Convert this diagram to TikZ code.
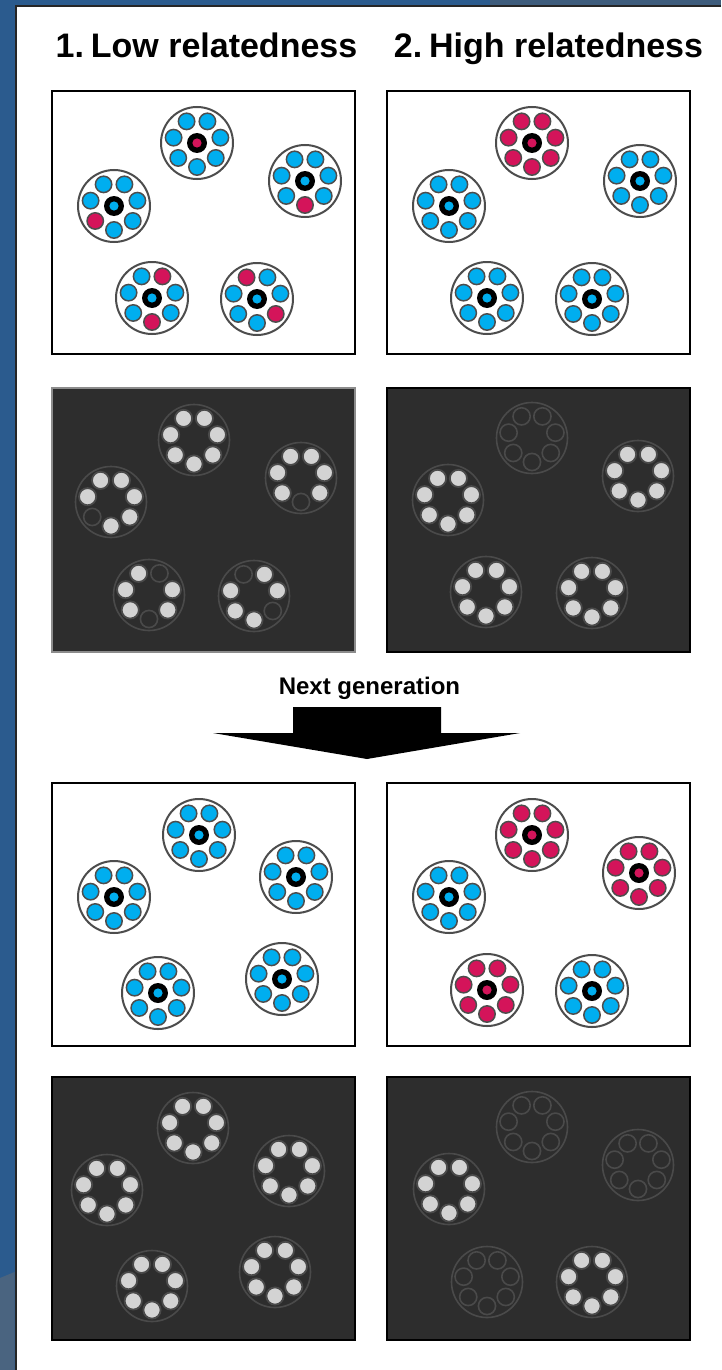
\documentclass[tikz,border=0pt]{standalone}
\usepackage{fontspec}
\setmainfont{Liberation Sans}
\definecolor{cb}{HTML}{00AEEF}
\definecolor{cr}{HTML}{D4145A}
\definecolor{bgblue}{HTML}{2B5B8E}
\definecolor{bgblue2}{HTML}{4A6480}
\definecolor{bgblue3}{HTML}{3E5C7C}
\definecolor{darkbg}{HTML}{2D2D2D}
\definecolor{ringgrey}{HTML}{4D4D4D}
\definecolor{dimgrey}{HTML}{4A4A4A}
\definecolor{cellgrey}{HTML}{D3D3D3}
\tikzset{
  panelW/.style={draw=black, line width=2pt, fill=white},
  panelD/.style={draw=black, line width=2pt, fill=darkbg},
  outerW/.style={draw=ringgrey, line width=2pt, fill=white},
  outerD/.style={draw=dimgrey, line width=1.6pt},
  cellW/.style={draw=ringgrey, line width=1.5pt},
  cellF/.style={fill=cellgrey, draw=dimgrey, line width=1.8pt},
  cellE/.style={draw=dimgrey, line width=1.6pt},
  title/.style={font=\bfseries\fontsize{34}{40}\selectfont, anchor=base},
  arrowshape/.style={fill=black}
}
\def\filledmark{f}
% white colony: x, y, centre colour, 7 colours (b, lr, r, tr, tl, l, ll)
\newcommand{\colW}[4]{%
  \begin{scope}[shift={(#1,#2)}]
    \draw[outerW] (0,0) circle (36pt);
    \foreach \cc [count=\i from 0] in {#4} {
      \filldraw[cellW, fill=\cc] ({-(270+\i*360/7)}:24) circle (8.2pt);
    }
    \fill[black] (0,0) circle (10pt);
    \fill[#3] (0,0) circle (4.6pt);
  \end{scope}}
% dark colony: x, y, 7 states f/e
\newcommand{\colD}[3]{%
  \begin{scope}[shift={(#1,#2)}]
    \draw[outerD] (0,0) circle (35.5pt);
    \foreach \st [count=\i from 0] in {#3} {
      \ifx\st\filledmark
        \filldraw[cellF] ({-(270+\i*360/7)}:24) circle (8.6pt);
      \else
        \draw[cellE] ({-(270+\i*360/7)}:24) circle (8.6pt);
      \fi
    }
  \end{scope}}
\begin{document}
\begin{tikzpicture}[x=1pt,y=-1pt]
\useasboundingbox (0,0) rectangle (721,1370);
% background
\fill[white] (0,0) rectangle (721,1370);
\fill[bgblue] (0,0) rectangle (721,6);
\fill[bgblue3] (490,0) rectangle (721,6);
\fill[bgblue] (0,0) rectangle (14.5,1370);
\fill[bgblue2] (0,1278) -- (14.5,1272) -- (14.5,1370) -- (0,1370) -- cycle;
\draw[black!85, line width=2pt] (15.5,1370) -- (15.5,6.5) -- (721,6.5);

% titles
\node[title] (t1) at (206.5,58) {1.\kern0.2em Low relatedness};
\node[title] (t2) at (548.5,58) {2.\kern0.2em High relatedness};

% ---------- generation 1 ----------
\draw[panelW] (52,91) rectangle (355,354);
\draw[panelW] (387,91) rectangle (690,354);
\draw[panelD, draw=black!45] (52,388) rectangle (355,652);
\draw[panelD] (387,388) rectangle (690,652);

\colW{197}{143}{cr}{cb,cb,cb,cb,cb,cb,cb}
\colW{305}{181}{cb}{cr,cb,cb,cb,cb,cb,cb}
\colW{114}{206}{cb}{cb,cb,cb,cb,cb,cb,cr}
\colW{152}{298}{cb}{cr,cb,cb,cr,cb,cb,cb}
\colW{257}{299}{cb}{cb,cr,cb,cb,cr,cb,cb}

\colW{532}{143}{cr}{cr,cr,cr,cr,cr,cr,cr}
\colW{640}{181}{cb}{cb,cb,cb,cb,cb,cb,cb}
\colW{449}{206}{cb}{cb,cb,cb,cb,cb,cb,cb}
\colW{487}{298}{cb}{cb,cb,cb,cb,cb,cb,cb}
\colW{592}{299}{cb}{cb,cb,cb,cb,cb,cb,cb}

\colD{194}{440}{f,f,f,f,f,f,f}
\colD{301}{478}{e,f,f,f,f,f,f}
\colD{111}{502}{f,f,f,f,f,f,e}
\colD{149}{595}{e,f,f,e,f,f,f}
\colD{254}{596}{f,e,f,f,e,f,f}

\colD{532}{438}{e,e,e,e,e,e,e}
\colD{638}{476}{f,f,f,f,f,f,f}
\colD{448}{500}{f,f,f,f,f,f,f}
\colD{486}{592}{f,f,f,f,f,f,f}
\colD{592}{593}{f,f,f,f,f,f,f}

% ---------- arrow ----------
\node[font=\bfseries\fontsize{24}{28}\selectfont, anchor=base] (ng) at (369.5,694) {Next generation};
\fill[arrowshape] (293,707) -- (441,707) -- (441,733) -- (520,733) -- (367,759)
  -- (213,733) -- (293,733) -- cycle;

% ---------- generation 2 ----------
\draw[panelW] (52,783) rectangle (355,1046);
\draw[panelW] (387,783) rectangle (690,1046);
\draw[panelD] (52,1077) rectangle (355,1340);
\draw[panelD] (387,1077) rectangle (690,1340);

\colW{199}{835}{cb}{cb,cb,cb,cb,cb,cb,cb}
\colW{296}{877}{cb}{cb,cb,cb,cb,cb,cb,cb}
\colW{114}{897}{cb}{cb,cb,cb,cb,cb,cb,cb}
\colW{158}{993}{cb}{cb,cb,cb,cb,cb,cb,cb}
\colW{282}{979}{cb}{cb,cb,cb,cb,cb,cb,cb}

\colW{532}{835}{cr}{cr,cr,cr,cr,cr,cr,cr}
\colW{639}{873}{cr}{cr,cr,cr,cr,cr,cr,cr}
\colW{449}{897}{cb}{cb,cb,cb,cb,cb,cb,cb}
\colW{487}{990}{cr}{cr,cr,cr,cr,cr,cr,cr}
\colW{592}{991}{cb}{cb,cb,cb,cb,cb,cb,cb}

\colD{193}{1128}{f,f,f,f,f,f,f}
\colD{289}{1171}{f,f,f,f,f,f,f}
\colD{107}{1190}{f,f,f,f,f,f,f}
\colD{152}{1286}{f,f,f,f,f,f,f}
\colD{275}{1272}{f,f,f,f,f,f,f}

\colD{532}{1127}{e,e,e,e,e,e,e}
\colD{638}{1165}{e,e,e,e,e,e,e}
\colD{449}{1189}{f,f,f,f,f,f,f}
\colD{487}{1282}{e,e,e,e,e,e,e}
\colD{592}{1282}{f,f,f,f,f,f,f}
\end{tikzpicture}
\end{document}
